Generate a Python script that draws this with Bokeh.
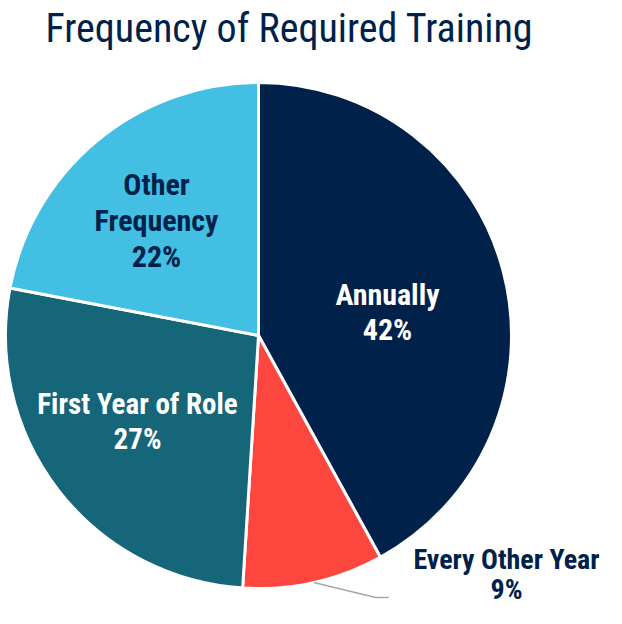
import math
from bokeh.plotting import figure
from bokeh.models import Range1d, ColumnDataSource
from bokeh.core.properties import value
from bokeh.embed import file_html
from bokeh.resources import INLINE

# ---- data ----
categories = ["Annually", "Every Other Year", "First Year of Role", "Other Frequency"]
shares = [42, 9, 27, 22]
colors = ["#00214a", "#fd463d", "#156679", "#42bfe2"]
label_lines = [["Annually", "42%"], ["Every Other Year", "9%"],
               ["First Year of Role", "27%"], ["Other", "Frequency", "22%"]]
text_colors = ["white", "#00214a", "white", "#00214a"]
title_text = "Frequency of Required Training"

W, H = 606, 608
NAVY = "#00214a"
FONT = "Roboto Condensed"
TXT_SHIFT = 9  # compensate renderer baseline offset

def sy(y):  # screen y -> data y
    return H - y

p = figure(width=W, height=H, output_backend="svg", toolbar_location=None,
           x_axis_location=None, y_axis_location=None, min_border=0,
           x_range=Range1d(0, W), y_range=Range1d(0, H))
p.grid.visible = False
p.outline_line_color = None
p.background_fill_color = "white"
p.border_fill_color = "white"

cx, cy, R = 258, 335, 253
total = sum(shares)
starts, ends, mids = [], [], []
a = 90.0
for s in shares:
    e = a - 360.0 * s / total
    starts.append(math.radians(a))
    ends.append(math.radians(e))
    mids.append(math.radians((a + e) / 2))
    a = e

src = ColumnDataSource(dict(start=starts, end=ends, color=colors, cat=categories))
p.wedge(x=cx, y=sy(cy), radius=R, start_angle="start", end_angle="end",
        direction="clock", fill_color="color", line_color="white", line_width=3,
        source=src)

# leader line for the small slice
m = mids[1]
lx0 = cx + R * math.cos(m)
ly0 = cy - R * math.sin(m)
p.line(x=[lx0, lx0 + 62, lx0 + 75], y=[sy(ly0), sy(ly0 + 15), sy(ly0 + 15)],
       line_color="#a6a6a6", line_width=1.5)

# label layout: (center x, first baseline, line spacing, font size)
layout = [(387, 303, 35, 30), (506, 568, 30, 28), (137, 412, 35, 29), (156, 193, 36, 30)]
for (ax, ay, ls, fs), lines, tc in zip(layout, label_lines, text_colors):
    xs = [ax] * len(lines)
    ys = [sy(ay + i * ls - TXT_SHIFT) for i in range(len(lines))]
    p.text(x=xs, y=ys, text=lines, text_color=tc, text_align="center",
           text_baseline="alphabetic", text_font=value(FONT), text_font_style="bold",
           text_font_size=f"{fs}px")

p.text(x=[45], y=[sy(37 - TXT_SHIFT)], text=[title_text], text_color=NAVY, text_align="left",
       text_baseline="alphabetic", text_font=value(FONT), text_font_size="40px")

open("out.html", "w").write(file_html(p, INLINE))
